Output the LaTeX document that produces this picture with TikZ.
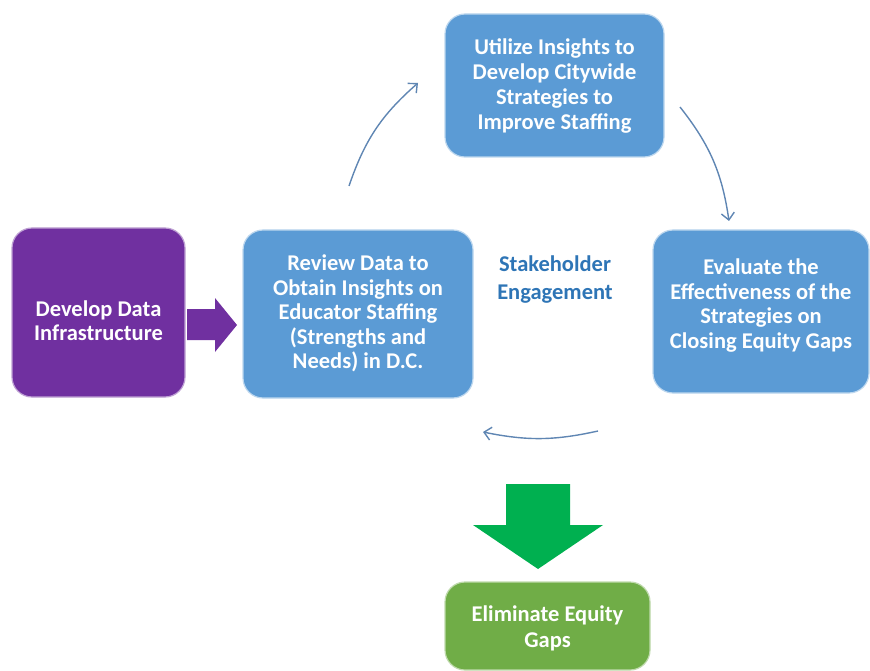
\documentclass[tikz,border=0pt]{standalone}
\usepackage{fontspec}
\setmainfont{Carlito}
\usetikzlibrary{arrows.meta}
\definecolor{boxblue}{HTML}{5B9BD5}
\definecolor{boxpurple}{HTML}{7030A0}
\definecolor{boxgreen}{HTML}{70AD47}
\definecolor{arrgreen}{HTML}{00B050}
\definecolor{cyc}{HTML}{5F86B3}
\definecolor{stake}{HTML}{2E75B6}
\newcommand\shiftedlines[2]{\raisebox{#1}[\height][\depth]{\begin{tabular}{@{}c@{}}#2\end{tabular}}}
\tikzset{
  x=1pt,y=-1pt,
  stepbox/.style={rounded corners=20pt, align=center, text=white,
    font=\fontsize{22.5}{24.5}\selectfont\bfseries, inner sep=2pt},
  bluebox/.style={stepbox, fill=boxblue, draw=boxblue!40!white, line width=1.2pt},
  cycarrow/.style={draw=cyc, line width=1.4pt, -{Straight Barb[length=7pt,width=13pt,line width=1.4pt]}},
}
\begin{document}
\begin{tikzpicture}
\useasboundingbox (0,0) rectangle (870,671);
\node[stepbox, fill=boxpurple, draw=boxpurple!45!white, line width=1.2pt,
  minimum width=173pt, minimum height=169pt] (dev) at (98.5,312.5)
  {\shiftedlines{-11pt}{Develop Data\\Infrastructure}};
\node[bluebox, minimum width=230pt, minimum height=168pt] (rev) at (358,314)
  {\shiftedlines{-1pt}{Review Data to\\Obtain Insights on\\Educator Staffing\\(Strengths and\\Needs) in D.C.}};
\node[bluebox, minimum width=219pt, minimum height=143pt, font=\fontsize{22.5}{25}\selectfont\bfseries] (uti) at (554.5,85.5)
  {\shiftedlines{-2pt}{Utilize Insights to\\Develop Citywide\\Strategies to\\Improve Staffing}};
\node[bluebox, minimum width=216pt, minimum height=163pt] (eva) at (761,311.5)
  {\shiftedlines{5pt}{Evaluate the\\Effectiveness of the\\Strategies on\\Closing Equity Gaps}};
\node[stepbox, fill=boxgreen, draw=boxgreen!45!white, line width=1.2pt,
  minimum width=205pt, minimum height=88pt, font=\fontsize{22.5}{26}\selectfont\bfseries] (eli) at (547.5,626)
  {\shiftedlines{-3pt}{Eliminate Equity\\Gaps}};
\node[align=center, text=stake, font=\fontsize{22.5}{28}\selectfont\bfseries] (stk) at (555,280)
  {Stakeholder\\Engagement};
% purple block arrow
\fill[boxpurple] (187,309) -- (215,309) -- (215,298) -- (237,325) -- (215,352) -- (215,340) -- (187,340) -- cycle;
% green block arrow
\fill[arrgreen] (506,484) -- (570,484) -- (570,525) -- (603,525) -- (538,569) -- (473,525) -- (506,525) -- cycle;
% cycle arrows
\coordinate (a1s) at (349,186);
\coordinate (a1e) at (418,83);
\coordinate (a2s) at (680,107);
\coordinate (a2e) at (729,221);
\coordinate (a3s) at (598,431);
\coordinate (a3e) at (483,432);
\draw[cycarrow] (a1s) to[bend left=15] (a1e);
\draw[cycarrow] (a2s) to[bend left=15] (a2e);
\draw[cycarrow] (a3s) to[bend left=12] (a3e);
\end{tikzpicture}
\end{document}
